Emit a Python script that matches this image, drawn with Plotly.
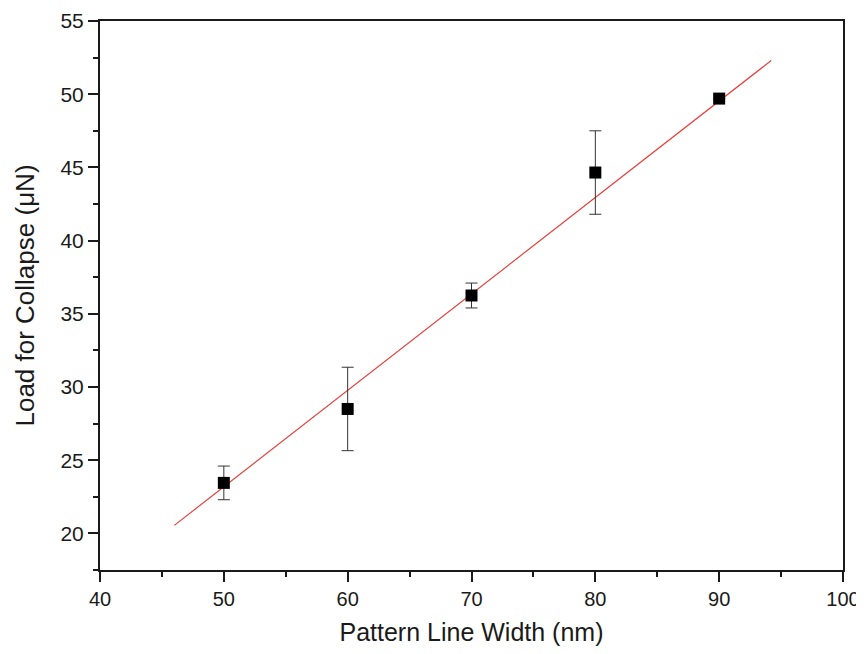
import plotly.graph_objects as go

line_width_nm = [50, 60, 70, 80, 90]
load_uN = [23.45, 28.5, 36.25, 44.65, 49.7]
load_err = [1.15, 2.85, 0.85, 2.85, 0.0]

fit_x = [46, 94.2]
fit_y = [20.55, 52.3]

fig = go.Figure()
fig.add_trace(go.Scatter(
    x=fit_x, y=fit_y, mode="lines",
    line=dict(color="#e8403c", width=1.2), showlegend=False))
fig.add_trace(go.Scatter(
    x=line_width_nm, y=load_uN, mode="markers",
    marker=dict(symbol="square", size=12, color="black"),
    error_y=dict(type="data", array=load_err, visible=True,
                 color="#333333", thickness=1, width=6),
    showlegend=False))

font = "Liberation Sans, Arial, sans-serif"
# page body has an 8px margin, so margins are offset accordingly
fig.update_layout(
    width=864, height=638,
    margin=dict(l=92, r=29, t=13, b=76),
    plot_bgcolor="white", paper_bgcolor="white",
    font=dict(family=font, color="#1a1a1a"),
)
fig.update_xaxes(
    range=[40, 100], tickmode="linear", tick0=40, dtick=10,
    ticks="outside", ticklen=10, tickwidth=2, tickcolor="#1a1a1a",
    minor=dict(dtick=5, ticks="outside", ticklen=5, tickwidth=2, tickcolor="#1a1a1a"),
    showline=True, linewidth=2, linecolor="#1a1a1a", mirror=True,
    showgrid=False, zeroline=False, automargin=False,
    ticklabeloverflow="allow",
    tickfont=dict(size=20),
    title=dict(text="Pattern Line Width (nm)", font=dict(size=25), standoff=20),
)
fig.update_yaxes(
    range=[17.5, 55], tickmode="linear", tick0=20, dtick=5,
    ticks="outside", ticklen=10, tickwidth=2, tickcolor="#1a1a1a",
    minor=dict(dtick=2.5, ticks="outside", ticklen=5, tickwidth=2, tickcolor="#1a1a1a"),
    showline=True, linewidth=2, linecolor="#1a1a1a", mirror=True,
    showgrid=False, zeroline=False, automargin=False,
    ticklabeloverflow="allow",
    tickfont=dict(size=21),
    title=dict(text="Load for Collapse (μN)", font=dict(size=26), standoff=18),
)
fig.write_html("out.html")
